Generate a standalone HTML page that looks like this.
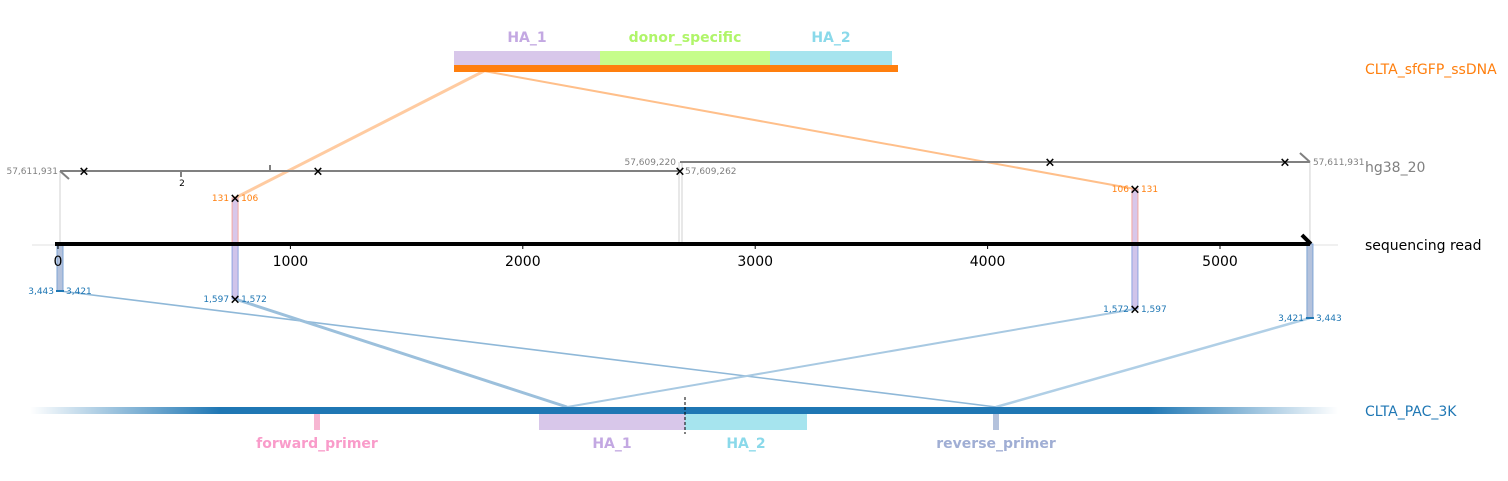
<!DOCTYPE html>
<html><head><meta charset="utf-8"><style>
body{margin:0;background:#fff}
svg{display:block;font-family:"DejaVu Sans","Liberation Sans",sans-serif}
</style></head><body>
<svg width="1508" height="481" viewBox="0 0 1508 481">
<defs>
<linearGradient id="pg" x1="30" x2="1338" y1="0" y2="0" gradientUnits="userSpaceOnUse">
<stop offset="0" stop-color="#1f77b4" stop-opacity="0"/>
<stop offset="0.145" stop-color="#1f77b4" stop-opacity="1"/>
<stop offset="0.855" stop-color="#1f77b4" stop-opacity="1"/>
<stop offset="1" stop-color="#1f77b4" stop-opacity="0"/>
</linearGradient>
</defs>
<g id="conn"></g>
<g id="main"></g>
</svg>
<script>
const readLength = 5387;
const tickValues = [0,1000,2000,3000,4000,5000];
const junctionReadPos = [762, 4634];
const ssdnaFeatures = ["HA_1","donor_specific","HA_2"];
const ssdnaFeatureBounds = [[0,146],[146,316],[316,438]];
const plasmidFeatures = ["forward_primer","HA_1","HA_2","reverse_primer"];
const genomeMarks1 = [84,318,680];
const genomeMarks2 = [1050,1285];

const NS="http://www.w3.org/2000/svg";
const main=document.getElementById('main'), conn=document.getElementById('conn');
function el(tag,attrs,parent,text){const e=document.createElementNS(NS,tag);for(const k in attrs)e.setAttribute(k,attrs[k]);if(text!==undefined)e.textContent=text;(parent||main).appendChild(e);return e;}
const X=v=>58+v*0.2324;
const readEnd=X(readLength);

let l;
l=el('line',{x1:484,y1:71,x2:X(junctionReadPos[0]),y2:198,stroke:'#ffbf8a',"stroke-width":3,opacity:0.8},conn);

l=el('line',{x1:484,y1:71,x2:X(junctionReadPos[1]),y2:189,stroke:'#ffbf8a',"stroke-width":2},conn);

l=el('line',{x1:60,y1:291,x2:996,y2:407,stroke:'#8fb8d8',"stroke-width":1.6},conn);

l=el('line',{x1:X(junctionReadPos[0]),y1:299,x2:567,y2:407,stroke:'#9cc0dc',"stroke-width":3},conn);

l=el('line',{x1:X(junctionReadPos[1]),y1:309,x2:567,y2:407,stroke:'#a8c9e2',"stroke-width":2},conn);

l=el('line',{x1:readEnd,y1:318,x2:996,y2:407,stroke:'#b0cfe6',"stroke-width":2.5},conn);


const ssCols=['#d8c7ea','#c6fd8a','#a6e4ee'], ssTxt=['#c3a8e2','#b0f56a','#8ad9ea'];
ssdnaFeatures.forEach((f,i)=>{const b=ssdnaFeatureBounds[i];
 let r=el('rect',{x:454+b[0],y:51,width:b[1]-b[0],height:14,fill:ssCols[i]});
 
 let t=el('text',{x:454+(b[0]+b[1])/2,y:42,"text-anchor":"middle","font-size":14,"font-weight":"bold",fill:ssTxt[i]},main,f);
 
});
let s=el('rect',{x:454,y:65,width:444,height:7,fill:'#ff7f0e'});

[[60,171],[679,162],[682,162],[readEnd,162]].forEach(([x,y])=>{let g=el('line',{x1:x,y1:y,x2:x,y2:244,stroke:'#d8d8d8',"stroke-width":1.2});});
let h=el('line',{x1:32,y1:245,x2:1338,y2:245,stroke:'#e0e0e0',"stroke-width":1});

let g1=el('line',{x1:60,y1:171,x2:680,y2:171,stroke:'#808080',"stroke-width":2});
let g2=el('line',{x1:680,y1:162,x2:readEnd,y2:162,stroke:'#808080',"stroke-width":2});
el('line',{x1:60,y1:171,x2:69,y2:179,stroke:'#808080',"stroke-width":2});
el('line',{x1:readEnd,y1:162,x2:readEnd-10,y2:153,stroke:'#808080',"stroke-width":2});
el('line',{x1:181,y1:171,x2:181,y2:177,stroke:'#808080',"stroke-width":2});
el('text',{x:182,y:186,"text-anchor":"middle","font-size":9,fill:'#000'},main,'2');
el('line',{x1:270,y1:171,x2:270,y2:165,stroke:'#808080',"stroke-width":2});
function cross(x,y,c){let g=el('text',{x:x,y:y+4.5,"text-anchor":"middle","font-size":13,"font-weight":"bold",fill:c||'#000'},main,'×');}
genomeMarks1.forEach(x=>cross(x,171));genomeMarks2.forEach(x=>cross(x,162));
const gl=[[58,174,'end','57,611,931'],[676,165,'end','57,609,220'],[685,174,'start','57,609,262'],[readEnd+3,165,'start','57,611,931']];
gl.forEach(a=>{let t=el('text',{x:a[0],y:a[1],"text-anchor":a[2],"font-size":9,fill:'#808080'},main,a[3]);});

function bar(x,y1,y2,fill,stroke,name){let r=el('rect',{x:x-3,y:Math.min(y1,y2),width:6,height:Math.abs(y2-y1),fill:fill,stroke:stroke,"stroke-width":1});}
const j0=X(junctionReadPos[0]), j1=X(junctionReadPos[1]);
bar(j0,198,244,'#d8c7ea','#f2a8a0','junction-1-ssdna-bar');
bar(j0,244,299,'#d0c4ea','#8ea4e0','junction-1-plasmid-bar');
bar(j1,189,244,'#d8c7ea','#f2a8a0','junction-2-ssdna-bar');
bar(j1,244,309,'#d0c4ea','#8ea4e0','junction-2-plasmid-bar');
bar(60,244,291,'#b4c2dc','#7ea4d4','start-plasmid-bar');
bar(readEnd,244,318,'#b4c2dc','#7ea4d4','end-plasmid-bar');
function lab(x,y,l,r,c){let a=el('text',{x:x-6,y:y+3,"text-anchor":"end","font-size":9,fill:c},main,l);
 let b=el('text',{x:x+6,y:y+3,"text-anchor":"start","font-size":9,fill:c},main,r);}
lab(j0,198,'131','106','#ff7f0e');cross(j0,198);
lab(j1,189,'106','131','#ff7f0e');cross(j1,189);
lab(j0,299,'1,597','1,572','#1f77b4');cross(j0,299);
lab(j1,309,'1,572','1,597','#1f77b4');cross(j1,309);
lab(60,291,'3,443','3,421','#1f77b4');el('line',{x1:56,y1:291,x2:64,y2:291,stroke:'#1f77b4',"stroke-width":2});
lab(readEnd,318,'3,421','3,443','#1f77b4');el('line',{x1:readEnd-4,y1:318,x2:readEnd+4,y2:318,stroke:'#1f77b4',"stroke-width":2});

let rd=el('line',{x1:55,y1:244,x2:readEnd,y2:244,stroke:'#000',"stroke-width":4});
el('line',{x1:readEnd+1,y1:244,x2:readEnd-8,y2:235,stroke:'#000',"stroke-width":4});
tickValues.forEach(v=>{el('line',{x1:X(v),y1:244,x2:X(v),y2:249,stroke:'#000',"stroke-width":1});
 let t=el('text',{x:X(v),y:266,"text-anchor":"middle","font-size":14,fill:'#000'},main,String(v));});

let pb=el('rect',{x:30,y:407,width:1308,height:7,fill:'url(#pg)'});
const pf=[[314,320,'#f7b6d2','#f99cca',317],[539,685,'#d8c7ea','#c3a8e2',612],[685,807,'#a6e4ee','#8ad9ea',746],[993,999,'#b4c2dc','#a0aed4',996]];
plasmidFeatures.forEach((f,i)=>{const p=pf[i];
 let r=el('rect',{x:p[0],y:414,width:p[1]-p[0],height:16,fill:p[2]});
 let t=el('text',{x:p[4],y:448,"text-anchor":"middle","font-size":14,"font-weight":"bold",fill:p[3]},main,f);});
el('line',{x1:685,y1:397,x2:685,y2:434,stroke:'#000',"stroke-width":1,"stroke-dasharray":"3,2"});

[['CLTA_sfGFP_ssDNA',74,'#ff7f0e','ssdna-name'],['hg38_20',172,'#808080','genome-name'],['sequencing read',250,'#000','read-name'],['CLTA_PAC_3K',416,'#1f77b4','plasmid-name']].forEach(a=>{
 let t=el('text',{x:1365,y:a[1],"font-size":14,fill:a[2]},main,a[0]);});
</script>
</body></html>
